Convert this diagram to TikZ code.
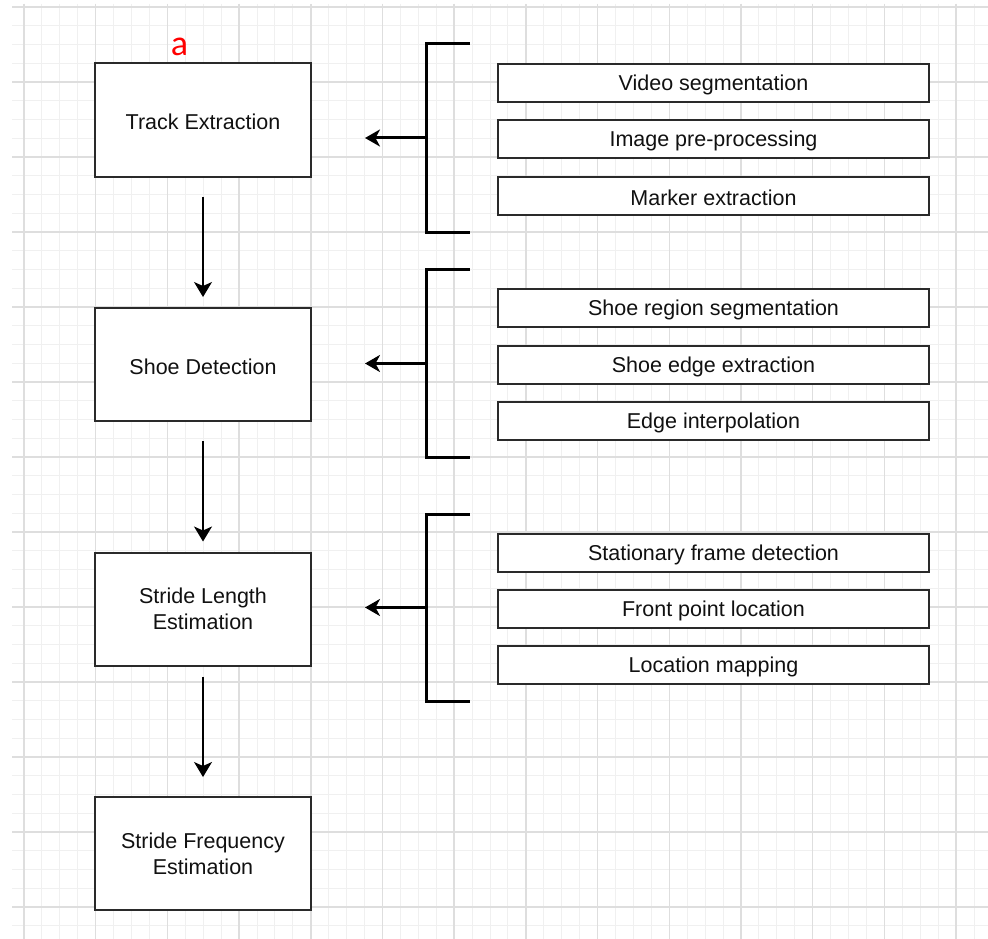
\documentclass[tikz,border=0pt]{standalone}
\usepackage{fontspec}
\setmainfont{Liberation Sans}
\newfontfamily\afont{Carlito}
\usetikzlibrary{arrows.meta}
\definecolor{minorgrid}{HTML}{F0F0F0}
\definecolor{majorgrid}{HTML}{DEDEDE}
\definecolor{boxline}{HTML}{2A2A2A}
\definecolor{txt}{HTML}{111111}
\newcommand{\lowr}[1]{\raisebox{-2pt}[\height][\depth]{#1}}
\tikzset{
  mingrid/.style={draw=minorgrid, line width=1pt},
  majgrid/.style={draw=majorgrid, line width=1.5pt},
  lbox/.style={draw=boxline, line width=2pt, fill=white, minimum width=216pt, minimum height=113pt, inner sep=0pt, align=center, text=txt, font=\fontsize{21.5}{26}\selectfont},
  rbox/.style={draw=boxline, line width=2pt, fill=white, minimum width=431pt, minimum height=38pt, inner sep=0pt, text=txt, font=\fontsize{21.5}{26}\selectfont},
  flow/.style={draw=black, line width=1.5pt, -{Stealth[length=15pt,width=18pt,inset=4pt]}},
  brk/.style={draw=black, line width=3pt, line join=miter},
  brkarrow/.style={draw=black, line width=3pt, -{Stealth[length=15pt,width=17pt,inset=4.5pt]}},
}
\begin{document}
\begin{tikzpicture}[x=1pt,y=-1pt]
\useasboundingbox (0,0) rectangle (988,939);
\fill[white] (0,0) rectangle (988,939);
% grid
\foreach \k in {0,...,53} \draw[mingrid] ({24+\k*17.925},4) -- ({24+\k*17.925},939);
\foreach \k in {0,...,49} \draw[mingrid] (12,{7+\k*18.75}) -- (988,{7+\k*18.75});
\foreach \k in {0,...,13} \draw[majgrid] ({24+\k*71.7},4) -- ({24+\k*71.7},939);
\foreach \k in {0,...,12} \draw[majgrid] (12,{7+\k*75}) -- (988,{7+\k*75});

% label
\node[anchor=base, text=red, inner sep=0pt] (lbl) at (179.5,56) {\afont\fontsize{36}{36}\selectfont a};

% main boxes
\node[lbox] (te) at (203,120) {\lowr{Track Extraction}};
\node[lbox] (sd) at (203,364.5) {\lowr{Shoe Detection}};
\node[lbox] (sl) at (203,609) {Stride Length\\Estimation};
\node[lbox] (sf) at (203,853.5) {Stride Frequency\\Estimation};

\draw[flow] ([yshift=-19pt]te.south) -- ([yshift=10pt]sd.north);
\draw[flow] ([yshift=-19pt]sd.south) -- ([yshift=10pt]sl.north);
\draw[flow] ([yshift=-10pt]sl.south) -- ([yshift=19pt]sf.north);

% right boxes
\node[rbox] (r11) at (713.5,83) {\lowr{Video segmentation}};
\node[rbox] (r12) at (713.5,139) {\lowr{Image pre-processing}};
\node[rbox] (r13) at (713.5,195.5) {\lowr{Marker extraction}};
\node[rbox] (r21) at (713.5,308) {\lowr{Shoe region segmentation}};
\node[rbox] (r22) at (713.5,364.5) {\lowr{Shoe edge extraction}};
\node[rbox] (r23) at (713.5,421) {\lowr{Edge interpolation}};
\node[rbox] (r31) at (713.5,552.5) {\lowr{Stationary frame detection}};
\node[rbox] (r32) at (713.5,608.5) {\lowr{Front point location}};
\node[rbox] (r33) at (713.5,665) {\lowr{Location mapping}};

% brackets
\coordinate (b1a) at (470,44);  \coordinate (b1b) at (426,44);
\coordinate (b1c) at (426,232); \coordinate (b1d) at (470,232);
\coordinate (b1m) at (426,138); \coordinate (b1t) at (365,138);
\draw[brk] (b1a) -- (b1b) -- (b1c) -- (b1d);
\draw[brkarrow] (b1m) -- (b1t);

\coordinate (b2a) at (470,269);  \coordinate (b2b) at (426,269);
\coordinate (b2c) at (426,457); \coordinate (b2d) at (470,457);
\coordinate (b2m) at (426,363.5); \coordinate (b2t) at (365,363.5);
\draw[brk] (b2a) -- (b2b) -- (b2c) -- (b2d);
\draw[brkarrow] (b2m) -- (b2t);

\coordinate (b3a) at (470,514);  \coordinate (b3b) at (426,514);
\coordinate (b3c) at (426,701); \coordinate (b3d) at (470,701);
\coordinate (b3m) at (426,607.5); \coordinate (b3t) at (365,607.5);
\draw[brk] (b3a) -- (b3b) -- (b3c) -- (b3d);
\draw[brkarrow] (b3m) -- (b3t);
\end{tikzpicture}
\end{document}
